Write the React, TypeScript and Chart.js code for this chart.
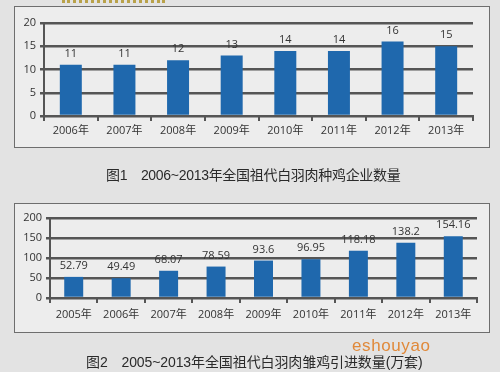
import React, { useEffect, useRef } from "react";
import { Chart, registerables } from "chart.js";

Chart.register(...registerables);

const years1 = ["2006年", "2007年", "2008年", "2009年", "2010年", "2011年", "2012年", "2013年"];
const companies = [11, 11, 12, 13, 14, 14, 16, 15];
const years2 = ["2005年", "2006年", "2007年", "2008年", "2009年", "2010年", "2011年", "2012年", "2013年"];
const imports = [52.79, 49.49, 68.07, 78.59, 93.6, 96.95, 118.18, 138.2, 154.16];

const caption1 = "图1　2006~2013年全国祖代白羽肉种鸡企业数量";
const caption2 = "图2　2005~2013年全国祖代白羽肉雏鸡引进数量(万套)";

const FONT = "'Open Sans', 'Noto Sans CJK SC', sans-serif";
const CAP_FONT = "'Liberation Sans', 'Noto Sans CJK SC', sans-serif";
const BAR = "#1f68ad";
const GRID = "#555";
const TXT = "#333";

const labelPlugin = {
  id: "barLabels",
  afterDatasetsDraw(chart: any) {
    const ctx = chart.ctx;
    const meta = chart.getDatasetMeta(0);
    const data = chart.data.datasets[0].data;
    ctx.save();
    ctx.fillStyle = TXT;
    ctx.font = "11px " + FONT;
    ctx.textAlign = "center";
    ctx.textBaseline = "middle";
    meta.data.forEach((bar: any, i: number) => {
      ctx.fillText(String(data[i]), bar.x, bar.y - 11);
    });
    ctx.restore();
  },
};

function makeConfig(labels: string[], values: number[], opts: any) {
  return {
    type: "bar" as const,
    data: {
      labels,
      datasets: [
        {
          data: values,
          backgroundColor: BAR,
          barPercentage: opts.barPct,
          categoryPercentage: 1,
        },
      ],
    },
    plugins: [labelPlugin],
    options: {
      responsive: false,
      animation: false as const,
      devicePixelRatio: 1,
      layout: { padding: opts.padding },
      plugins: { legend: { display: false }, tooltip: { enabled: false } },
      scales: {
        x: {
          grid: {
            drawOnChartArea: false,
            drawTicks: true,
            tickLength: 5,
            color: GRID,
            lineWidth: 2,
          },
          border: { color: GRID, width: 2 },
          ticks: { color: TXT, font: { size: 11, family: FONT }, padding: opts.xPad, maxRotation: 0 },
          afterFit: (s: any) => {
            s.height = opts.xHeight;
          },
        },
        y: {
          min: 0,
          max: opts.max,
          grid: { color: GRID, lineWidth: 2.5, tickLength: 4 },
          border: { color: GRID, width: 2 },
          ticks: { stepSize: opts.step, color: TXT, font: { size: 11, family: FONT }, padding: 4 },
          afterFit: (s: any) => {
            s.width = opts.yWidth;
          },
        },
      },
    },
  };
}

export default function App() {
  const ref1 = useRef<HTMLCanvasElement>(null);
  const ref2 = useRef<HTMLCanvasElement>(null);

  useEffect(() => {
    document.body.style.margin = "0";
    const c1 = new Chart(
      ref1.current!,
      makeConfig(years1, companies, {
        barPct: 0.41,
        max: 20,
        step: 5,
        padding: { left: 14, top: 23, right: 27, bottom: 224 },
        xHeight: 32,
        yWidth: 30,
        xPad: 3,
      }) as any
    );
    const c2 = new Chart(
      ref2.current!,
      makeConfig(years2, imports, {
        barPct: 0.4,
        max: 200,
        step: 50,
        padding: { left: 15, top: 218, right: 23, bottom: 40 },
        xHeight: 34,
        yWidth: 35,
        xPad: 5,
      }) as any
    );
    return () => {
      c1.destroy();
      c2.destroy();
    };
  }, []);

  const box = (l: number, t: number, w: number, h: number): React.CSSProperties => ({
    position: "absolute",
    left: l,
    top: t,
    width: w,
    height: h,
    border: "1.5px solid #6e6e6e",
    background: "#ededed",
    boxSizing: "border-box",
  });

  const cap = (l: number, t: number, ls: number): React.CSSProperties => ({
    position: "absolute",
    left: l,
    top: t,
    fontSize: 14,
    lineHeight: "18px",
    letterSpacing: ls,
    color: "#2a2a2a",
    fontFamily: CAP_FONT,
    whiteSpace: "pre",
  });

  return (
    <div
      style={{
        position: "fixed",
        left: 0,
        top: 0,
        width: 500,
        height: 372,
        overflow: "hidden",
        background: "#e3e3e3",
        fontFamily: FONT,
      }}
    >
      <div
        style={{
          position: "absolute",
          left: 62,
          top: 0,
          width: 103,
          height: 0,
          borderTop: "3px dotted #b9a24a",
        }}
      />
      <div style={box(14, 6, 476, 142)} />
      <div style={box(14, 203, 476, 130)} />
      <canvas ref={ref1} width={500} height={372} style={{ position: "absolute", left: 0, top: 0 }} />
      <canvas ref={ref2} width={500} height={372} style={{ position: "absolute", left: 0, top: 0 }} />
      <div style={cap(106, 166, -0.3)}>{caption1}</div>
      <div
        style={{
          position: "absolute",
          left: 352,
          top: 336,
          fontSize: 17,
          letterSpacing: 0.6,
          lineHeight: "20px",
          color: "#e0893a",
          fontFamily: "'Liberation Sans', sans-serif",
        }}
      >
        eshouyao
      </div>
      <div style={cap(86, 353, -0.1)}>{caption2}</div>
    </div>
  );
}
